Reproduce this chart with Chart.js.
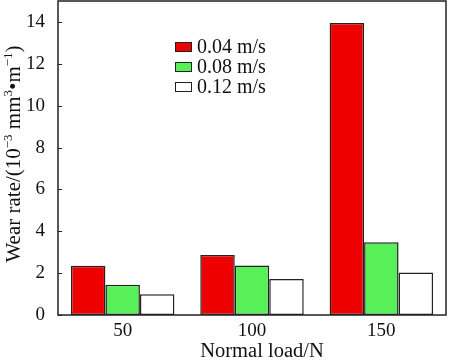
<!DOCTYPE html>
<html>
<head>
<meta charset="utf-8">
<script src="https://cdn.jsdelivr.net/npm/chart.js@4/dist/chart.umd.min.js"></script>
<style>
  html, body { margin: 0; padding: 0; background: #fff; }
  #wrap { width: 450px; height: 360px; }
</style>
</head>
<body>
<div id="wrap"><canvas id="c" width="450" height="360"></canvas></div>
<script>
// values
var loads = ['50', '100', '150'];
var speedLabels = ['0.04 m/s', '0.08 m/s', '0.12 m/s'];
var rate004 = [2.35, 2.87, 13.95];
var rate008 = [1.45, 2.36, 3.48];
var rate012 = [0.99, 1.72, 2.03];
var yTicks = [0, 2, 4, 6, 8, 10, 12, 14];

var FONT = '"Liberation Serif", "Times New Roman", serif';
var INK = '#222';

// frame, inward ticks, legend inside the plot and axis titles (y one has superscripts)
var framePlugin = {
    id: 'frame',
    afterDraw: function(chart) {
        var ctx = chart.ctx, a = chart.chartArea, y = chart.scales.y;
        ctx.save();
        ctx.strokeStyle = INK;
        ctx.lineWidth = 1.5;
        ctx.strokeRect(a.left, a.top, a.right - a.left, a.bottom - a.top);
        ctx.beginPath();
        yTicks.forEach(function(v) {
            var py = Math.round(y.getPixelForValue(v)) + 0.5;
            ctx.moveTo(a.left, py);
            ctx.lineTo(a.left + 4, py);
        });
        ctx.lineWidth = 1.2;
        ctx.stroke();

        // legend
        ctx.font = '20px ' + FONT;
        ctx.textBaseline = 'middle';
        chart.data.datasets.forEach(function(ds, i) {
            var ly = 47 + i * 20;
            ctx.fillStyle = ds.backgroundColor;
            ctx.fillRect(175, ly - 5, 17, 10);
            ctx.lineWidth = 1;
            ctx.strokeStyle = INK;
            ctx.strokeRect(175.5, ly - 4.5, 16, 9);
            ctx.fillStyle = '#111';
            ctx.fillText(ds.label, 197, ly + 1);
        });

        // x title
        ctx.font = '20.5px ' + FONT;
        ctx.textAlign = 'center';
        ctx.textBaseline = 'alphabetic';
        ctx.fillText('Normal load/N', 262, 357);
        ctx.textAlign = 'left';

        // y title
        var parts = [['Wear rate/(10', 0], ['\u22123', 1], [' mm', 0], ['3', 1],
                     ['\u2022m', 0], ['\u22121', 1], [')', 0]];
        var big = '21px ' + FONT, small = '13px ' + FONT;
        var total = 0;
        parts.forEach(function(p) { ctx.font = p[1] ? small : big; total += ctx.measureText(p[0]).width; });
        ctx.translate(20, 154);
        ctx.rotate(-Math.PI / 2);
        var x = -total / 2;
        parts.forEach(function(p) {
            ctx.font = p[1] ? small : big;
            ctx.fillText(p[0], x, p[1] ? -8 : 0);
            x += ctx.measureText(p[0]).width;
        });
        ctx.restore();
    }
};

var barStyle = { borderColor: INK, borderWidth: 1.5, borderSkipped: false,
                 categoryPercentage: 0.8, barPercentage: 1.0 };

new Chart(document.getElementById('c'), {
    type: 'bar',
    data: {
        labels: loads,
        datasets: [
            Object.assign({ label: speedLabels[0], data: rate004, backgroundColor: '#ef0000' }, barStyle),
            Object.assign({ label: speedLabels[1], data: rate008, backgroundColor: '#58f058' }, barStyle),
            Object.assign({ label: speedLabels[2], data: rate012, backgroundColor: '#ffffff' }, barStyle)
        ]
    },
    options: {
        responsive: false,
        animation: false,
        layout: { padding: { top: 1, right: 4, left: 0, bottom: 0 } },
        plugins: { legend: { display: false }, tooltip: { enabled: false } },
        scales: {
            x: {
                grid: { display: false },
                border: { display: false },
                ticks: { color: '#111', font: { family: FONT, size: 19 }, padding: -3 },
                afterFit: function(s) {
                    s.height = 45;
                    s.paddingLeft = 0; s.paddingRight = 0;
                }
            },
            y: {
                min: 0, max: 15,
                grid: { display: false },
                border: { display: false },
                afterBuildTicks: function(s) {
                    s.ticks = yTicks.map(function(v) { return { value: v }; });
                },
                ticks: { color: '#111', font: { family: FONT, size: 19 }, padding: 5 },
                afterFit: function(s) {
                    s.width = 58;
                    s.paddingTop = 0; s.paddingBottom = 0;
                }
            }
        }
    },
    plugins: [framePlugin]
});
</script>
</body>
</html>
